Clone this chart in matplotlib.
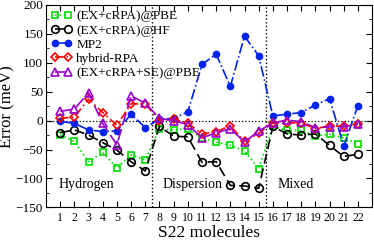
import numpy as np
import matplotlib
matplotlib.use("Agg")
import matplotlib.pyplot as plt
from matplotlib.ticker import MultipleLocator

plt.rcParams['font.family'] = ['Liberation Serif', 'DejaVu Serif']
plt.rcParams['mathtext.fontset'] = 'stix'

# S22 molecules 1..22
mol = np.arange(1, 23)

ex_crpa_pbe = [-25, -36, -71, -55, -82, -59, -68,
               -14, -16, -14, -30, -37, -43, -52, -83,
               -10, -17, -17, -26, -24, -30, -40]
ex_crpa_hf = [-21, -16, -25, -38, -51, -71, -87,
              -10, -27, -28, -72, -71, -112, -113, -117,
              -10, -23, -25, -23, -43, -62, -58]
mp2 = [-1, -5, -16, -19, -18, 11, -12,
       2, 4, 15, 97, 115, 59, 146, 112,
       8, 11, 14, 27, 38, -44, 26]
hybrid_rpa = [4, 6, 37, 14, -8, 29, 29,
              0, 2, -4, -23, -19, -9, -36, -22,
              -4, -4, -4, -14, -9, -10, -6]
ex_crpa_se_pbe = [16, 20, 48, -5, -42, 43, 30,
                  4, 0, -7, -30, -21, -14, -37, -18,
                  -4, 1, -2, -12, -11, -11, -6]

group_names = ['Hydrogen', 'Dispersion', 'Mixed']
group_text_x = [0.85, 8.2, 16.3]
group_borders = [7.5, 15.5]

fig = plt.figure(figsize=(3.74, 2.44), dpi=100)
ax = fig.add_axes([0.123, 0.15, 0.872, 0.83])

ax.plot(mol, ex_crpa_pbe, color='#00dd00', ls=':', lw=1.2, marker='s', ms=5,
        mfc='none', mew=1.2, label='(EX+cRPA)@PBE')
ax.plot(mol, ex_crpa_hf, color='black', ls=(0, (6, 3)), lw=1.2, marker='o', ms=5.5,
        mfc='none', mew=1.2, label='(EX+cRPA)@HF')
ax.plot(mol, mp2, color='#0022ee', ls='-.', lw=1.2, marker='o', ms=4.5,
        label='MP2')
ax.plot(mol, hybrid_rpa, color='red', ls=(0, (5, 2, 1, 2)), lw=1.2, marker='D', ms=4.5,
        mfc='none', mew=1.2, label='hybrid-RPA')
ax.plot(mol, ex_crpa_se_pbe, color='#9900cc', ls=(0, (7, 3)), lw=1.2, marker='^', ms=6,
        mfc='none', mew=1.2, label='(EX+cRPA+SE)@PBE')

ax.axhline(0, color='black', ls=':', lw=0.9, zorder=0)
for b in group_borders:
    ax.axvline(b, color='black', ls=':', lw=1.0, zorder=0)
for name, tx in zip(group_names, group_text_x):
    ax.text(tx, -110, name, fontsize=10, va='center', ha='left')

ax.set_xlim(0, 23)
ax.set_ylim(-150, 200)
ax.set_xticks(mol)
ax.yaxis.set_major_locator(MultipleLocator(50))
ax.yaxis.set_minor_locator(MultipleLocator(25))
ax.tick_params(which='both', direction='in', top=True, right=True, labelsize=9.5)
ax.tick_params(axis='x', labelsize=8.5, pad=3)
ax.tick_params(axis='y', pad=2)
ax.tick_params(which='major', length=4)
ax.tick_params(which='minor', length=2.5)

ax.set_xlabel('S22 molecules', fontsize=12.5, labelpad=1)
ax.set_ylabel('Error (meV)', fontsize=12)
ax.yaxis.set_label_coords(-0.095, 0.5)

ax.legend(loc='upper left', fontsize=9.5, frameon=False, numpoints=2,
          handlelength=1.6, handletextpad=0.3, labelspacing=0.15,
          borderaxespad=0.2, borderpad=0.2)

fig.savefig('out.png', dpi=100)
